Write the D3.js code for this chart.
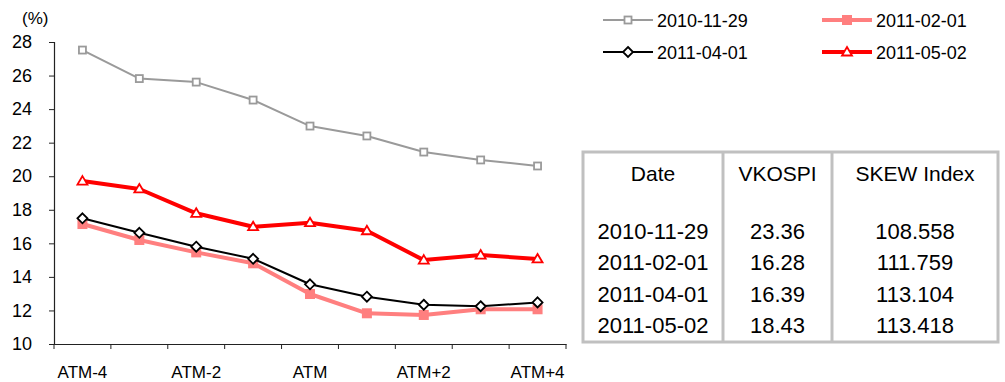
<!DOCTYPE html>
<html>
<head>
<meta charset="utf-8">
<script src="https://cdn.jsdelivr.net/npm/d3@7"></script>
<style>
  body { margin: 0; background: #fff; }
  svg { display: block; font-family: "Liberation Sans", Arial, sans-serif; }
</style>
</head>
<body>
<svg id="chart" width="1005" height="382"></svg>
<script>
// Implied volatility smile by moneyness
const categories = ["ATM-4", "ATM-3", "ATM-2", "ATM-1", "ATM", "ATM+1", "ATM+2", "ATM+3", "ATM+4"];
const tickLabels = ["ATM-4", "ATM-2", "ATM", "ATM+2", "ATM+4"];
const yTicks = [10, 12, 14, 16, 18, 20, 22, 24, 26, 28];

const s20101129 = [27.52, 25.82, 25.61, 24.54, 22.99, 22.40, 21.44, 20.97, 20.61];
const s20110201 = [17.15, 16.20, 15.46, 14.81, 12.98, 11.83, 11.73, 12.07, 12.07];
const s20110401 = [17.49, 16.63, 15.80, 15.08, 13.56, 12.82, 12.34, 12.25, 12.48];
const s20110502 = [19.71, 19.24, 17.79, 16.99, 17.23, 16.75, 15.00, 15.30, 15.07];

const tableHeader = ["Date", "VKOSPI", "SKEW Index"];
const tableDates = ["2010-11-29", "2011-02-01", "2011-04-01", "2011-05-02"];
const tableVkospi = ["23.36", "16.28", "16.39", "18.43"];
const tableSkew = ["108.558", "111.759", "113.104", "113.418"];

const series = [
  { name: "2010-11-29", values: s20101129, color: "#9a9a9a", width: 2, marker: "hsquare" },
  { name: "2011-02-01", values: s20110201, color: "#ff7f7f", width: 4, marker: "fsquare" },
  { name: "2011-04-01", values: s20110401, color: "#000000", width: 2, marker: "diamond" },
  { name: "2011-05-02", values: s20110502, color: "#ff0000", width: 4, marker: "triangle" }
];

const svg = d3.select("#chart");
const plotLeft = 54, plotRight = 566, plotTop = 42, plotBottom = 344;

const x = d3.scaleBand().domain(categories).range([plotLeft, plotRight]);
const y = d3.scaleLinear().domain([10, 28]).range([plotBottom, plotTop]);

// Axes
const yAxis = svg.append("g")
  .attr("transform", `translate(${plotLeft},0)`)
  .call(d3.axisLeft(y).tickValues(yTicks).tickSize(5).tickPadding(17));
const xAxis = svg.append("g")
  .attr("transform", `translate(0,${plotBottom})`)
  .call(d3.axisBottom(x).tickSize(0).tickFormat(d => tickLabels.includes(d) ? d : ""));

[yAxis, xAxis].forEach(g => {
  g.select(".domain").attr("stroke", "#222").attr("stroke-width", 1.2);
  g.selectAll("line").attr("stroke", "#222");
  g.selectAll("text").attr("fill", "#000")
    .attr("font-family", "Liberation Sans, Arial, sans-serif");
});
yAxis.selectAll("text").attr("text-anchor", "end").attr("font-size", 18);
xAxis.selectAll("text").attr("dy", 0).attr("y", 34).attr("font-size", 17);

// x tick marks at band edges
const edges = categories.map(c => x(c)).concat([x.range()[1]]);
xAxis.selectAll(".edge").data(edges).enter().append("line")
  .attr("x1", d => d).attr("x2", d => d).attr("y1", 0).attr("y2", 5)
  .attr("stroke", "#222");

svg.append("text").attr("x", 22).attr("y", 24).attr("font-size", 17).text("(%)");

// Markers
function drawMarker(g, type, cx, cy, color) {
  if (type === "hsquare") {
    g.append("rect").attr("x", cx - 3.5).attr("y", cy - 3.5).attr("width", 7).attr("height", 7)
      .attr("fill", "#fff").attr("stroke", color).attr("stroke-width", 1.8);
  } else if (type === "fsquare") {
    g.append("rect").attr("x", cx - 5).attr("y", cy - 5).attr("width", 10).attr("height", 10)
      .attr("fill", color);
  } else if (type === "diamond") {
    g.append("path").attr("d", `M${cx},${cy - 5}L${cx + 5},${cy}L${cx},${cy + 5}L${cx - 5},${cy}Z`)
      .attr("fill", "#fff").attr("stroke", color).attr("stroke-width", 1.8);
  } else if (type === "triangle") {
    g.append("path").attr("d", `M${cx},${cy - 5}L${cx + 5},${cy + 3.5}L${cx - 5},${cy + 3.5}Z`)
      .attr("fill", "#fff").attr("stroke", color).attr("stroke-width", 1.8);
  }
}

const line = d3.line()
  .x((d, i) => x(categories[i]) + x.bandwidth() / 2)
  .y(d => y(d));

series.forEach(s => {
  const g = svg.append("g");
  g.append("path").datum(s.values).attr("d", line)
    .attr("fill", "none").attr("stroke", s.color).attr("stroke-width", s.width)
    .attr("stroke-linejoin", "round");
  s.values.forEach((v, i) => {
    drawMarker(g, s.marker, x(categories[i]) + x.bandwidth() / 2, y(v), s.color);
  });
});

// Legend
const legendPos = [[603, 20], [822, 20], [603, 52], [822, 52]];
series.forEach((s, i) => {
  const [lx, ly] = legendPos[i];
  const g = svg.append("g");
  g.append("line").attr("x1", lx).attr("x2", lx + 50).attr("y1", ly).attr("y2", ly)
    .attr("stroke", s.color).attr("stroke-width", s.width);
  drawMarker(g, s.marker, lx + 25, ly, s.color);
  g.append("text").attr("x", lx + 54).attr("y", ly + 6.5).attr("font-size", 18).text(s.name);
});

// Summary table
const tb = { x0: 583, x1: 998, y0: 152, y1: 342 };
const colEdges = [tb.x0, 723, 832, tb.x1];
const tg = svg.append("g");
tg.append("rect").attr("x", tb.x0).attr("y", tb.y0).attr("width", tb.x1 - tb.x0).attr("height", tb.y1 - tb.y0)
  .attr("fill", "#fff").attr("stroke", "#c0c0c0").attr("stroke-width", 3);
[colEdges[1], colEdges[2]].forEach(cx => {
  tg.append("line").attr("x1", cx).attr("x2", cx).attr("y1", tb.y0).attr("y2", tb.y1)
    .attr("stroke", "#c0c0c0").attr("stroke-width", 3);
});
const colCenter = i => (colEdges[i] + colEdges[i + 1]) / 2;
tableHeader.forEach((h, i) => {
  tg.append("text").attr("x", colCenter(i)).attr("y", 181).attr("text-anchor", "middle")
    .attr("font-size", 21).text(h);
});
const rowY = [239, 270, 302, 333];
tableDates.forEach((d, r) => {
  [d, tableVkospi[r], tableSkew[r]].forEach((t, i) => {
    tg.append("text").attr("x", colCenter(i)).attr("y", rowY[r]).attr("text-anchor", "middle")
      .attr("font-size", 22).text(t);
  });
});
</script>
</body>
</html>
